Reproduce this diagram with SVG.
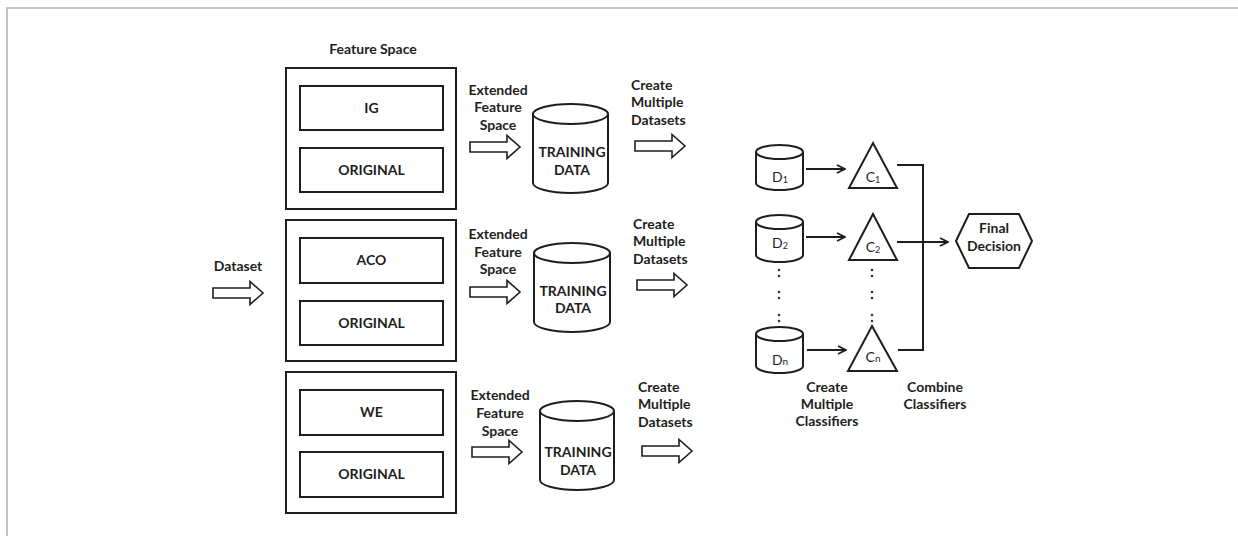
<svg xmlns="http://www.w3.org/2000/svg" width="1238" height="536" viewBox="0 0 1238 536">
  <defs>
    <style>
      .frame { stroke: #c4c4c4; stroke-width: 2; fill: none; }
      .box { fill: #ffffff; stroke: #1e1e1e; stroke-width: 2; }
      .shape { fill: #ffffff; stroke: #1e1e1e; stroke-width: 2; stroke-linejoin: miter; }
      .line { fill: none; stroke: #1e1e1e; stroke-width: 2; }
      .blk { fill: #ffffff; stroke: #1e1e1e; stroke-width: 1.6; stroke-linejoin: miter; }
      .t { font-family: Lato, "Liberation Sans", Arial, sans-serif; font-size: 14px; font-weight: bold; fill: #1e1e1e; }
      .c { text-anchor: middle; }
      .n { font-family: Lato, "Liberation Sans", Arial, sans-serif; font-size: 14px; fill: #1e1e1e; text-anchor: middle; }
      .dot { fill: #333333; }
    </style>
    <marker id="open" viewBox="0 0 10 10" refX="9" refY="5" markerWidth="10" markerHeight="10" markerUnits="userSpaceOnUse" orient="auto">
      <path d="M1,1 L9,5 L1,9" fill="none" stroke="#1e1e1e" stroke-width="1.8"/>
    </marker>
    <!-- hollow block arrow, 50 wide, drawn from (0,0) centre-left -->
    <path id="blockArrow" d="M0,-5 H37 V-11.5 L50,0 L37,11.5 V5 H0 Z"/>
    <!-- colon-like ellipsis marks -->
    <g id="vdots">
      <circle class="dot" cx="0" cy="-3" r="1.3"/>
      <circle class="dot" cx="0" cy="3" r="1.3"/>
    </g>
  </defs>

  <rect width="1238" height="536" fill="#ffffff"/>
  <!-- page frame -->
  <path class="frame" d="M7,536 V8 H1238"/>

  <!-- input -->
  <g id="dataset">
    <text class="t c" x="238" y="271">Dataset</text>
    <use href="#blockArrow" class="blk" x="213" y="293"/>
  </g>

  <text class="t c" x="373" y="54">Feature Space</text>

  <!-- feature space groups -->
  <g id="fs-ig">
    <rect class="box" x="286" y="68" width="170" height="141"/>
    <rect class="box" x="300" y="86" width="143" height="44"/>
    <text class="t c" x="371.5" y="113">IG</text>
    <rect class="box" x="300" y="148" width="143" height="44"/>
    <text class="t c" x="371.5" y="175">ORIGINAL</text>
  </g>
  <g id="fs-aco">
    <rect class="box" x="286" y="220" width="170" height="141"/>
    <rect class="box" x="300" y="238" width="143" height="45"/>
    <text class="t c" x="371.5" y="265">ACO</text>
    <rect class="box" x="300" y="301" width="143" height="44"/>
    <text class="t c" x="371.5" y="328">ORIGINAL</text>
  </g>
  <g id="fs-we">
    <rect class="box" x="286" y="372" width="170" height="141"/>
    <rect class="box" x="300" y="390" width="143" height="45"/>
    <text class="t c" x="371.5" y="417">WE</text>
    <rect class="box" x="300" y="452" width="143" height="45"/>
    <text class="t c" x="371.5" y="479">ORIGINAL</text>
  </g>

  <!-- extended feature space arrows -->
  <g id="ext-1">
    <text class="t c" x="498" y="95">Extended</text>
    <text class="t c" x="498" y="112">Feature</text>
    <text class="t c" x="498" y="130">Space</text>
    <use href="#blockArrow" class="blk" x="470" y="147"/>
  </g>
  <g id="ext-2">
    <text class="t c" x="498" y="239">Extended</text>
    <text class="t c" x="498" y="257">Feature</text>
    <text class="t c" x="498" y="274">Space</text>
    <use href="#blockArrow" class="blk" x="470" y="292"/>
  </g>
  <g id="ext-3">
    <text class="t c" x="500" y="400">Extended</text>
    <text class="t c" x="500" y="418">Feature</text>
    <text class="t c" x="500" y="436">Space</text>
    <use href="#blockArrow" class="blk" x="472" y="452"/>
  </g>

  <!-- training data stores -->
  <g id="train-1">
    <path class="shape" d="M533,114 V183 A37.5,10 0 0 0 608,183 V114 A37.5,10 0 0 0 533,114 Z"/>
    <path class="line" d="M533,114 A37.5,10 0 0 0 608,114"/>
    <text class="t c" x="572" y="157">TRAINING</text>
    <text class="t c" x="572" y="175">DATA</text>
  </g>
  <g id="train-2">
    <path class="shape" d="M534,253 V322 A38,10 0 0 0 610,322 V253 A38,10 0 0 0 534,253 Z"/>
    <path class="line" d="M534,253 A38,10 0 0 0 610,253"/>
    <text class="t c" x="573" y="296">TRAINING</text>
    <text class="t c" x="573" y="313">DATA</text>
  </g>
  <g id="train-3">
    <path class="shape" d="M540,411 V480 A37,10 0 0 0 614,480 V411 A37,10 0 0 0 540,411 Z"/>
    <path class="line" d="M540,411 A37,10 0 0 0 614,411"/>
    <text class="t c" x="578" y="457">TRAINING</text>
    <text class="t c" x="578" y="475">DATA</text>
  </g>

  <!-- create multiple datasets arrows -->
  <g id="mk-1">
    <text class="t" x="631" y="90">Create</text>
    <text class="t" x="631" y="107">Multiple</text>
    <text class="t" x="631" y="125">Datasets</text>
    <use href="#blockArrow" class="blk" x="635" y="146"/>
  </g>
  <g id="mk-2">
    <text class="t" x="633" y="229">Create</text>
    <text class="t" x="633" y="246">Multiple</text>
    <text class="t" x="633" y="264">Datasets</text>
    <use href="#blockArrow" class="blk" x="637" y="285"/>
  </g>
  <g id="mk-3">
    <text class="t" x="638" y="392">Create</text>
    <text class="t" x="638" y="409">Multiple</text>
    <text class="t" x="638" y="427">Datasets</text>
    <use href="#blockArrow" class="blk" x="642" y="451"/>
  </g>

  <!-- sub-datasets -->
  <g id="d1">
    <path class="shape" d="M756,152 V183 A23.5,7 0 0 0 803,183 V152 A23.5,7 0 0 0 756,152 Z"/>
    <path class="line" d="M756,152 A23.5,7 0 0 0 803,152"/>
    <text class="n" x="780" y="182">D<tspan font-size="9" dy="1">1</tspan></text>
  </g>
  <g id="d2">
    <path class="shape" d="M756,222 V255 A23.5,7 0 0 0 803,255 V222 A23.5,7 0 0 0 756,222 Z"/>
    <path class="line" d="M756,222 A23.5,7 0 0 0 803,222"/>
    <text class="n" x="780" y="248">D<tspan font-size="9" dy="1">2</tspan></text>
  </g>
  <g id="dn">
    <path class="shape" d="M756,334 V366 A23.5,7 0 0 0 803,366 V334 A23.5,7 0 0 0 756,334 Z"/>
    <path class="line" d="M756,334 A23.5,7 0 0 0 803,334"/>
    <text class="n" x="780" y="365">D<tspan font-size="10">n</tspan></text>
  </g>

  <!-- classifiers -->
  <g id="c1">
    <polygon class="shape" points="873,143 897,188 849,188"/>
    <text class="n" x="873" y="182">C<tspan font-size="9" dy="1">1</tspan></text>
  </g>
  <g id="c2">
    <polygon class="shape" points="873,214 897,260 849,260"/>
    <text class="n" x="873" y="252">C<tspan font-size="9" dy="1">2</tspan></text>
  </g>
  <g id="cn">
    <polygon class="shape" points="872,326 897,371 848,371"/>
    <text class="n" x="873" y="362">C<tspan font-size="10">n</tspan></text>
  </g>

  <!-- ellipsis between rows -->
  <g id="ellipsis">
    <use href="#vdots" x="779" y="273"/>
    <use href="#vdots" x="779" y="295"/>
    <use href="#vdots" x="779" y="318"/>
    <use href="#vdots" x="872" y="273"/>
    <use href="#vdots" x="872" y="295"/>
    <use href="#vdots" x="872" y="318"/>
  </g>

  <!-- final decision -->
  <g id="final">
    <polygon class="shape" points="956,241 969,214 1019,214 1032,241 1019,268 969,268"/>
    <text class="t c" x="994" y="233">Final</text>
    <text class="t c" x="994" y="251">Decision</text>
  </g>

  <!-- connectors -->
  <g id="connectors">
    <line class="line" x1="806" y1="169" x2="845" y2="169" marker-end="url(#open)"/>
    <line class="line" x1="806" y1="237" x2="845" y2="237" marker-end="url(#open)"/>
    <line class="line" x1="807" y1="350" x2="846" y2="350" marker-end="url(#open)"/>
    <path class="line" d="M897,165 H923 V350 H898"/>
    <line class="line" x1="897" y1="242" x2="948" y2="242" marker-end="url(#open)"/>
  </g>

  <!-- stage captions -->
  <g id="captions">
    <text class="t c" x="827" y="392">Create</text>
    <text class="t c" x="827" y="409">Multiple</text>
    <text class="t c" x="827" y="426">Classifiers</text>
    <text class="t c" x="935" y="392">Combine</text>
    <text class="t c" x="935" y="409">Classifiers</text>
  </g>
</svg>
